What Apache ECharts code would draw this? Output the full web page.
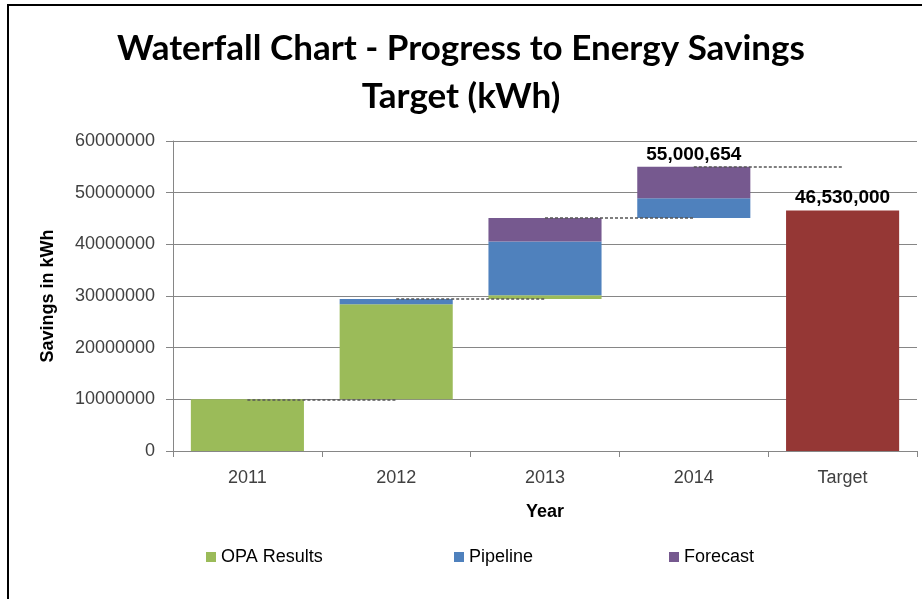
<!DOCTYPE html>
<html>
<head>
<meta charset="utf-8">
<script src="https://cdn.jsdelivr.net/npm/echarts@6/dist/echarts.min.js"></script>
<style>html,body{margin:0;padding:0;background:#fff;}#c{width:922px;height:599px;}</style>
</head>
<body>
<div id="c"></div>
<script>
var categories = ['2011', '2012', '2013', '2014', 'Target'];
var opaResults = [10000000, 18400000, 750000, 0, 0];
var pipeline   = [0, 1000000, 10400000, 3800000, 0];
var forecast   = [0, 0, 4550000, 6100654, 0];
var target     = [0, 0, 0, 0, 46530000];
var yTicks = [0, 10000000, 20000000, 30000000, 40000000, 50000000, 60000000];

// cumulative waterfall positions
var base = [];
var totals = [];
var run = 0;
for (var i = 0; i < categories.length; i++) {
  if (categories[i] === 'Target') { base.push(0); totals.push(target[i]); continue; }
  base.push(run);
  run += opaResults[i] + pipeline[i] + forecast[i];
  totals.push(run);
}
function fmt(n) { return String(Math.round(n)).replace(/\B(?=(\d{3})+(?!\d))/g, ','); }

var connectors = [];
for (var j = 0; j < 4; j++) {
  connectors.push([{ coord: [categories[j], totals[j]] }, { coord: [categories[j + 1], totals[j]] }]);
}

var FONT = 'Liberation Sans';
var chart = echarts.init(document.getElementById('c'), null, { renderer: 'canvas' });
var labelStyle = { show: true, position: 'top', distance: 3, color: '#000', fontFamily: FONT, fontWeight: 'bold', fontSize: 19 };

chart.setOption({
  animation: false,
  backgroundColor: '#fff',
  title: {
    text: 'Waterfall Chart - Progress to Energy Savings\nTarget (kWh)',
    left: 'center', top: 20,
    textStyle: { fontFamily: 'Lato', fontWeight: 'bold', fontSize: 35, lineHeight: 48, color: '#000' }
  },
  legend: [
    { data: ['OPA Results'], left: 201, top: 543, itemWidth: 10, itemHeight: 10, icon: 'rect',
      textStyle: { fontFamily: FONT, fontSize: 18, color: '#000' } },
    { data: ['Pipeline'], left: 449, top: 543, itemWidth: 10, itemHeight: 10, icon: 'rect',
      textStyle: { fontFamily: FONT, fontSize: 18, color: '#000' } },
    { data: ['Forecast'], left: 664, top: 543, itemWidth: 10, itemHeight: 10, icon: 'rect',
      textStyle: { fontFamily: FONT, fontSize: 18, color: '#000' } }
  ],
  grid: { left: 173, right: 5, top: 141, bottom: 148, containLabel: false },
  xAxis: {
    type: 'category', data: categories,
    name: 'Year', nameLocation: 'middle', nameGap: 52,
    nameTextStyle: { fontFamily: FONT, fontWeight: 'bold', fontSize: 18, color: '#000' },
    axisLine: { lineStyle: { color: '#868686', width: 1 } },
    axisTick: { show: true, length: 6, lineStyle: { color: '#868686' } },
    axisLabel: { fontFamily: FONT, fontSize: 18, color: '#404040', margin: 18 }
  },
  yAxis: {
    type: 'value', min: 0, max: 60000000, interval: 10000000,
    name: 'Savings in kWh', nameLocation: 'middle', nameGap: 116,
    nameTextStyle: { fontFamily: FONT, fontWeight: 'bold', fontSize: 18, color: '#000' },
    axisLine: { show: true, lineStyle: { color: '#868686', width: 1 } },
    axisTick: { show: true, length: 7, lineStyle: { color: '#868686' } },
    splitLine: { show: true, lineStyle: { color: '#868686', width: 1 } },
    axisLabel: { fontFamily: FONT, fontSize: 18, color: '#404040', margin: 18,
      formatter: function (v) { return String(v); } }
  },
  series: [
    { name: 'base', type: 'bar', stack: 'w', data: base, barCategoryGap: '24%',
      itemStyle: { color: 'rgba(0,0,0,0)' }, silent: true,
      markLine: { silent: true, symbol: 'none', label: { show: false },
        lineStyle: { color: '#555', type: [3, 2], width: 1.5 }, data: connectors } },
    { name: 'OPA Results', type: 'bar', stack: 'w', data: opaResults, itemStyle: { color: '#9BBB59' } },
    { name: 'Pipeline', type: 'bar', stack: 'w', data: pipeline, itemStyle: { color: '#4F81BD' } },
    { name: 'Forecast', type: 'bar', stack: 'w', itemStyle: { color: '#76598F' },
      data: forecast.map(function (v, k) {
        return k === 3 ? { value: v, label: Object.assign({}, labelStyle, { formatter: fmt(totals[3]) }) } : v;
      }) },
    { name: 'Target', type: 'bar', stack: 'w', itemStyle: { color: '#953735' },
      data: target.map(function (v, k) {
        return k === 4 ? { value: v, label: Object.assign({}, labelStyle, { formatter: fmt(v) }) } : v;
      }) }
  ],
  graphic: [
    { type: 'polyline', shape: { points: [[8, 620], [8, 5], [940, 5]] },
      style: { stroke: '#000', lineWidth: 2, fill: null }, silent: true }
  ]
});
</script>
</body>
</html>
